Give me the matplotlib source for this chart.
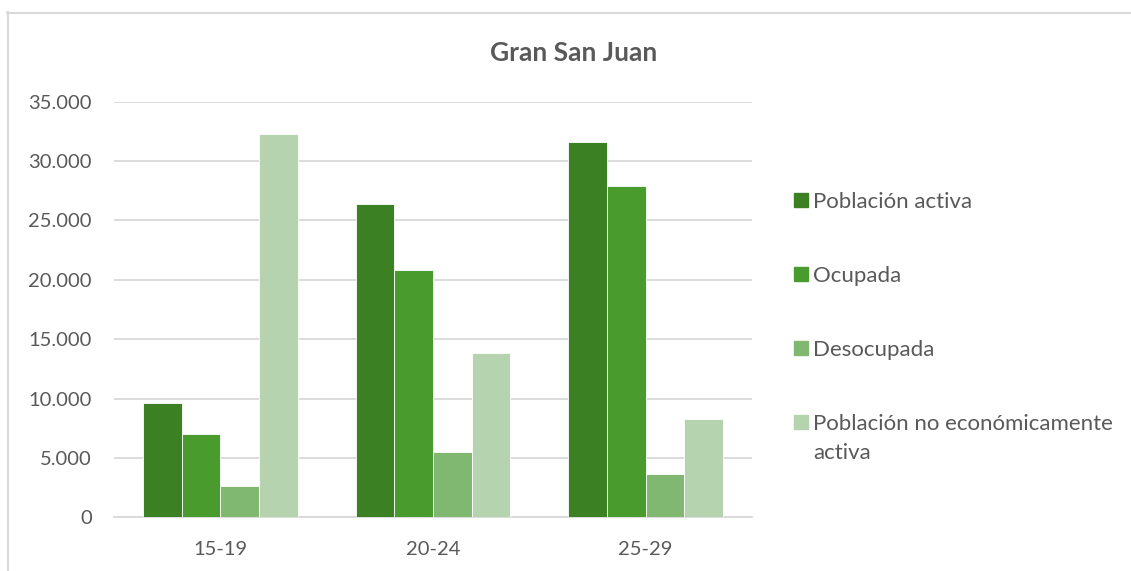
import numpy as np
import matplotlib
matplotlib.use("Agg")
import matplotlib.pyplot as plt
from matplotlib.lines import Line2D
from matplotlib.patches import Rectangle

# datos
grupos = ["15-19", "20-24", "25-29"]
series = ["Población activa", "Ocupada", "Desocupada",
          "Población no económicamente\nactiva"]
activa = [9650, 26360, 31580]
ocupada = [7010, 20850, 27880]
desocupada = [2610, 5470, 3670]
no_activa = [32280, 13810, 8280]
valores = [activa, ocupada, desocupada, no_activa]
colores = ["#3B8023", "#499B2D", "#80B872", "#B5D3AF"]
yticks = [0, 5000, 10000, 15000, 20000, 25000, 30000, 35000]

W, H = 1131, 571
gris = "#595959"
plt.rcParams['font.family'] = ['Lato', 'DejaVu Sans']

fig = plt.figure(figsize=(W / 100, H / 100), dpi=100)
ax = fig.add_axes([114 / W, 1 - 517.3 / H, (752 - 114) / W, (517.3 - 101.7) / H])

x = np.arange(len(grupos))
ancho = 0.182
for i, (vals, col) in enumerate(zip(valores, colores)):
    ax.bar(x + (i - 1.5) * ancho, vals, width=ancho, color=col,
           edgecolor="white", linewidth=0.6, zorder=3)

ax.set_xlim(-0.5, len(grupos) - 0.5)
ax.set_ylim(0, 35000)
ax.set_yticks(yticks)
ax.set_yticklabels([f"{v:,}".replace(",", ".") for v in yticks])
ax.set_xticks(x)
ax.set_xticklabels(grupos)
ax.tick_params(axis="both", length=0, labelsize=14.5, colors=gris)
ax.tick_params(axis="y", pad=16)
ax.tick_params(axis="x", pad=17)
ax.grid(axis="y", color="#D9D9D9", linewidth=1.3, zorder=0)
for s in ["top", "right", "left"]:
    ax.spines[s].set_visible(False)
ax.spines["bottom"].set_color("#D9D9D9")
ax.spines["bottom"].set_linewidth(1.3)

fig.text(574 / W, 1 - 53 / H, "Gran San Juan", ha="center", va="center",
         fontsize=19, fontweight="bold", color=gris)

# leyenda a mano
filas = [200, 274, 348, 422]
for nombre, col, fy in zip(series, colores, filas):
    fig.add_artist(Rectangle((794 / W, 1 - (fy + 7) / H), 14 / W, 14 / H,
                             transform=fig.transFigure, color=col))
    # center_baseline en texto de 2 lineas toma la ultima linea
    extra = nombre.count("\n") * 10
    fig.text(813 / W, 1 - (fy + extra) / H, nombre, ha="left", va="center_baseline",
             fontsize=16, color=gris, linespacing=1.55)

# marco del grafico
fig.add_artist(Line2D([7.5 / W, 7.5 / W], [1 - 12 / H, 0], transform=fig.transFigure,
                      color="#D9D9D9", linewidth=1.5))
fig.add_artist(Line2D([7 / W, 1], [1 - 12.5 / H, 1 - 12.5 / H], transform=fig.transFigure,
                      color="#D9D9D9", linewidth=1.5))

fig.savefig("out.png", dpi=100)
